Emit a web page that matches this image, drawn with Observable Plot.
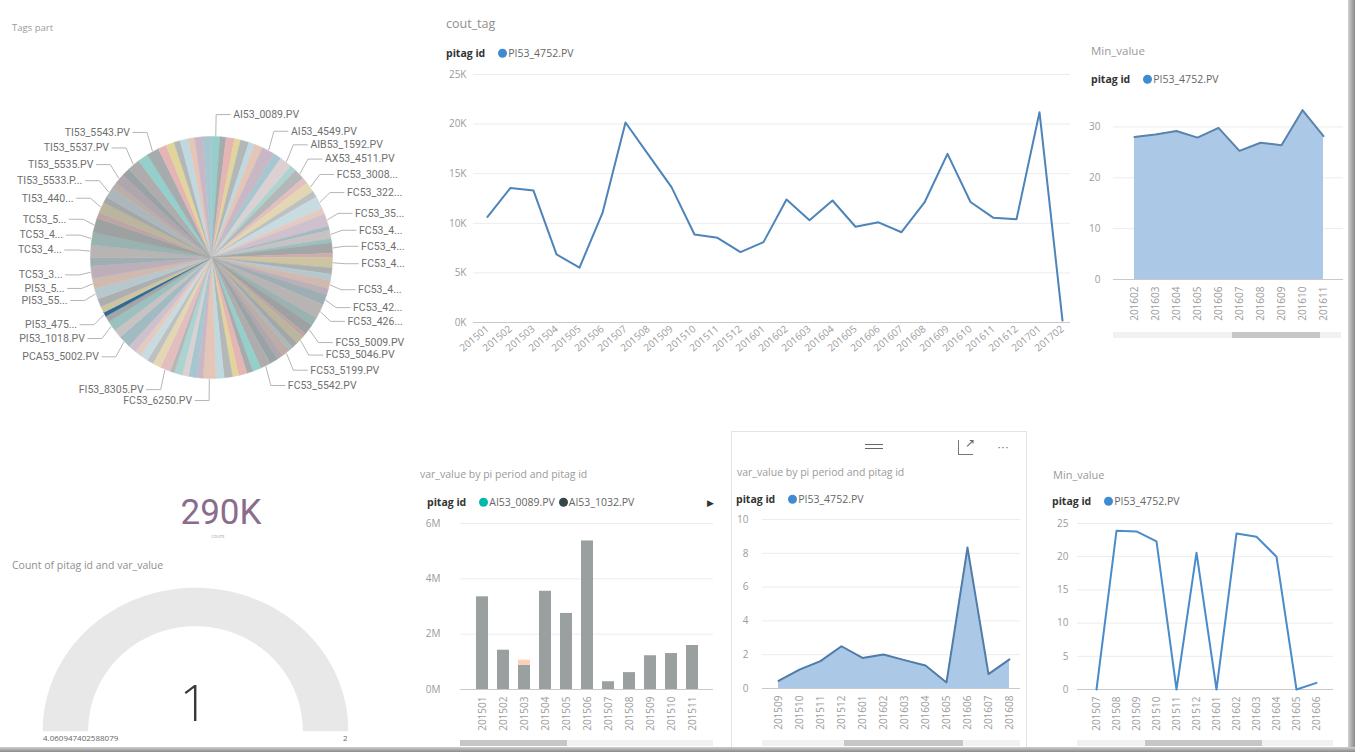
<!DOCTYPE html>
<html><head><meta charset="utf-8">
<script src="https://cdn.jsdelivr.net/npm/d3@7"></script>
<script src="https://cdn.jsdelivr.net/npm/@observablehq/plot@0.6"></script>
<style>
html,body{margin:0;padding:0;background:#fff;}
body{width:1355px;height:752px;overflow:hidden;position:relative;font-family:"Open Sans","Noto Sans",sans-serif;}
svg{overflow:visible;}
</style></head><body>
<script>
// ---------------- DATA ----------------
const pieTags = [
"AI53_0089.PV","AI53_1032.PV","AI53_2215.PV","AI53_3120.PV","AI53_4018.PV","AI53_4410.PV","AI53_4521.PV","AI53_4549.PV",
"AI53_5010.PV","AIB53_1592.PV","AIC53_1601.PV","AX53_4511.PV","AX53_4512.PV","FC53_3008.PV","FC53_3011.PV","FC53_3225.PV",
"FC53_3301.PV","FC53_3512.PV","FC53_3710.PV","FC53_4001.PV","FC53_4020.PV","FC53_4046.PV","FC53_4062.PV","FC53_4105.PV",
"FC53_4130.PV","FC53_4152.PV","FC53_4188.PV","FC53_4201.PV","FC53_4215.PV","FC53_4260.PV","FC53_4301.PV","FC53_5009.PV",
"FC53_5021.PV","FC53_5046.PV","FC53_5101.PV","FC53_5150.PV","FC53_5199.PV","FC53_5301.PV","FC53_5410.PV","FC53_5542.PV",
"FC53_5601.PV","FC53_5702.PV","FC53_5810.PV","FC53_5903.PV","FC53_6011.PV","FC53_6120.PV","FC53_6250.PV","FC53_6301.PV",
"FC53_6402.PV","FI53_8101.PV","FI53_8210.PV","FI53_8250.PV","FI53_8305.PV","FI53_8401.PV","FI53_8502.PV","FI53_8603.PV",
"LI53_2001.PV","LI53_2102.PV","PCA53_5002.PV","PCA53_5010.PV","PI53_1018.PV","PI53_2030.PV","PI53_4752.PV","PI53_4801.PV",
"PI53_5010.PV","PI53_5520.PV","PI53_5601.PV","TC53_3010.PV","TC53_3120.PV","TC53_4010.PV","TC53_4120.PV","TC53_5010.PV",
"TC53_5120.PV","TI53_4401.PV","TI53_4520.PV","TI53_5533.PV","TI53_5534.PV","TI53_5535.PV","TI53_5536.PV","TI53_5537.PV",
"TI53_5540.PV","TI53_5543.PV","TI53_5545.PV","TI53_5550.PV","TI53_5601.PV","TT53_1001.PV","TT53_1102.PV","TT53_1203.PV","XV53_1001.PV"];
const pieCounts = [
3236,2412,3198,2437,3251,2405,3224,4839,
3217,4852,2426,4031,2398,4047,2419,4826,
2433,4861,1609,3207,1624,4015,1598,4043,
2421,2436,3229,2410,4038,5644,3215,4027,
1613,3246,2409,1617,3233,2428,3202,4036,
3241,2415,3219,2431,3208,3237,4844,2402,
3226,2418,3213,1606,4049,3231,2424,3204,
2416,3245,4833,3218,4029,2407,1621,2439,
3222,4041,4018,4857,3209,4836,4849,5631,
2427,4024,2413,4052,2432,4009,3234,4842,
4033,4827,3211,3242,2404,3228,2429,3216,3239];
const pieLabelTexts = {
"AI53_0089.PV":"AI53_0089.PV","AI53_4549.PV":"AI53_4549.PV","AIB53_1592.PV":"AIB53_1592.PV","AX53_4511.PV":"AX53_4511.PV",
"FC53_3008.PV":"FC53_3008...","FC53_3225.PV":"FC53_322...","FC53_3512.PV":"FC53_35...","FC53_4001.PV":"FC53_4...",
"FC53_4046.PV":"FC53_4...","FC53_4105.PV":"FC53_4...","FC53_4188.PV":"FC53_4...","FC53_4215.PV":"FC53_42...",
"FC53_4260.PV":"FC53_426...","FC53_5009.PV":"FC53_5009.PV","FC53_5046.PV":"FC53_5046.PV","FC53_5199.PV":"FC53_5199.PV",
"FC53_5542.PV":"FC53_5542.PV","FC53_6250.PV":"FC53_6250.PV","FI53_8305.PV":"FI53_8305.PV","PCA53_5002.PV":"PCA53_5002.PV",
"PI53_1018.PV":"PI53_1018.PV","PI53_4752.PV":"PI53_475...","PI53_5520.PV":"PI53_55...","PI53_5601.PV":"PI53_5...",
"TC53_3010.PV":"TC53_3...","TC53_4010.PV":"TC53_4...","TC53_4120.PV":"TC53_4...","TC53_5010.PV":"TC53_5...",
"TI53_4401.PV":"TI53_440...","TI53_5533.PV":"TI53_5533.P...","TI53_5535.PV":"TI53_5535.PV","TI53_5537.PV":"TI53_5537.PV",
"TI53_5543.PV":"TI53_5543.PV"};
const highlightTag = "PI53_4752.PV";

const coutPeriods = ["201501","201502","201503","201504","201505","201506","201507","201508","201509","201510","201511","201512",
"201601","201602","201603","201604","201605","201606","201607","201608","201609","201610","201611","201612","201701","201702"];
const coutValues = [10650,13570,13300,6860,5530,11050,20160,16900,13650,8870,8540,7100,
8100,12400,10300,12300,9650,10100,9100,12100,17000,12150,10550,10400,21200,200];
const coutTicks = [0,5000,10000,15000,20000,25000];

const minTopPeriods = ["201602","201603","201604","201605","201606","201607","201608","201609","201610","201611"];
const minTopValues = [28.0,28.5,29.2,27.9,29.8,25.3,26.9,26.4,33.3,28.2];
const minTopTicks = [0,10,20,30];

const kpiValue = "290K";
const kpiLabel = "count";
const gaugeTitle = "Count of pitag id and var_value";
const gaugeMin = "4.060947402588079";
const gaugeMax = "2";
const gaugeValue = "1";

const barPeriods = ["201501","201502","201503","201504","201505","201506","201507","201508","201509","201510","201511"];
const barSeries = ["AI53_1032.PV","AI53_2215.PV"];
const barValuesA = [3.35,1.42,0.88,3.55,2.75,5.37,0.28,0.61,1.22,1.30,1.59]; // millions
const barValuesB = [0,0,0.18,0,0,0,0,0,0,0,0];
const barTicks = [0,2,4,6];

const areaPeriods = ["201509","201510","201511","201512","201601","201602","201603","201604","201605","201606","201607","201608"];
const areaValues = [0.45,1.12,1.62,2.5,1.81,2.01,1.68,1.36,0.36,8.34,0.85,1.72];
const areaTicks = [0,2,4,6,8,10];

const minBotPeriods = ["201507","201508","201509","201510","201511","201512","201601","201602","201603","201604","201605","201606"];
const minBotValues = [0,23.9,23.8,22.3,0,20.6,0,23.5,23.0,20.0,0,1.0];
const minBotTicks = [0,5,10,15,20,25];

// ---------------- STYLE ----------------
const FONT = '"Open Sans","Noto Sans",sans-serif';
const DIN = 'Roboto,"DejaVu Sans",sans-serif';
const PALETTE = ["#01B8AA","#374649","#FD625E","#F2C80F","#5F6B6D","#8AD4EB","#FE9666","#A66999","#3599B8","#DFBFBF",
"#4AC5BB","#5F6B6D","#FB8281","#F4D25A","#7F898A","#A4DDEE","#FDAB89","#B687AC","#28738A","#A78F8F",
"#168980","#293537","#BB4A4A","#B59525","#475052","#6A9FB0","#BD7150","#7B4F71","#1B4D5C","#706060",
"#0F5C55","#1C2325","#7D3231","#796419","#303637","#476A75","#7E4B36","#52354C","#0D262E","#544848"];

function addText(s, x, y, o = {}) {
  const d = document.createElement("div");
  d.textContent = s;
  const a = o.anchor === "middle" ? "-50%" : o.anchor === "end" ? "-100%" : "0";
  Object.assign(d.style, {position:"absolute", left:x+"px", top:y+"px", fontSize:(o.size||11)+"px",
    color:o.color||"#999", fontWeight:o.weight||400, fontFamily:o.family||FONT, lineHeight:"1",
    whiteSpace:"nowrap", transform:`translate(${a},-50%)`});
  document.body.appendChild(d);
  return d;
}
function addBox(x, y, w, h, style) {
  const d = document.createElement("div");
  Object.assign(d.style, {position:"absolute", left:x+"px", top:y+"px", width:w+"px", height:h+"px"}, style);
  document.body.appendChild(d);
  return d;
}
function legend(x, y, items) {
  const d = document.createElement("div");
  Object.assign(d.style, {position:"absolute", left:x+"px", top:y+"px", transform:"translateY(-50%)",
    display:"flex", alignItems:"center", fontFamily:FONT, fontSize:"10.5px", lineHeight:"1", whiteSpace:"nowrap"});
  const b = document.createElement("span");
  b.textContent = "pitag id"; b.style.fontWeight = "700"; b.style.color = "#333"; b.style.marginRight = "13px";
  d.appendChild(b);
  items.forEach(([name, color]) => {
    const dot = document.createElement("span");
    Object.assign(dot.style, {display:"inline-block", width:"9px", height:"9px", borderRadius:"50%", background:color, marginRight:"1px"});
    const t = document.createElement("span");
    t.textContent = name; t.style.color = "#666"; t.style.marginRight = "4px";
    d.appendChild(dot); d.appendChild(t);
  });
  document.body.appendChild(d);
  return d;
}
function place(svg, left, top) {
  svg.style.position = "absolute"; svg.style.left = left + "px"; svg.style.top = top + "px";
  document.body.appendChild(svg);
}
function scrollbar(x0, x1, t0, t1, y) {
  addBox(x0, y, x1 - x0, 6, {background:"#f1f1f1"});
  addBox(t0, y, t1 - t0, 6, {background:"#c6c6c6"});
}

// ---------------- PIE ----------------
addText("Tags part", 12, 28, {size:9.5, color:"#9a9a9a"});
{
  const CX = 211, CY = 257, R = 121;
  const total = d3.sum(pieCounts);
  let cum = 0;
  const slices = pieTags.map((tag, i) => {
    const a0 = cum / total * 2 * Math.PI; cum += pieCounts[i];
    const a1 = cum / total * 2 * Math.PI;
    const base = PALETTE[i % PALETTE.length];
    const faded = d3.interpolateRgb(d3.interpolateRgb("#ffffff", base)(0.48), "#b4b6b7")(0.35);
    const color = tag === highlightTag ? "#2f6a95" : faded;
    return {tag, i, a0, a1, mid:(a0 + a1) / 2, color};
  });
  const pts = [];
  slices.forEach(s => {
    const n = Math.max(2, Math.ceil((s.a1 - s.a0) / (Math.PI / 180)));
    pts.push({k:s.i, x:CX, y:CY, c:s.color});
    for (let j = 0; j <= n; j++) {
      const a = s.a0 + (s.a1 - s.a0) * j / n;
      pts.push({k:s.i, x:CX + R * Math.sin(a), y:CY - R * Math.cos(a), c:s.color});
    }
  });
  const leaders = [], labelsR = [], labelsL = [];
  slices.forEach(s => {
    const t = pieLabelTexts[s.tag]; if (!t) return;
    const sn = Math.sin(s.mid), cs = Math.cos(s.mid);
    const side = sn >= 0 ? 1 : -1;
    const ly = CY - (R + 22) * cs;
    const ex = CX + (R + 1) * sn, ey = CY - (R + 1) * cs;
    const mx = CX + (R + 12) * sn;
    const tx = mx + 14 * side;
    leaders.push({k:s.i, x:ex, y:ey}, {k:s.i, x:mx, y:ly}, {k:s.i, x:tx, y:ly});
    (side > 0 ? labelsR : labelsL).push({x:tx + 3 * side, y:ly, text:t});
  });
  const svg = Plot.plot({
    width:420, height:320, margin:0,
    x:{domain:[0,420], range:[0,420], axis:null},
    y:{domain:[100,420], range:[0,320], axis:null},
    color:{type:"identity"},
    style:{background:"none", overflow:"visible"},
    marks:[
      Plot.line(pts, {x:"x", y:"y", z:"k", fill:"c", stroke:"c", strokeWidth:0.5, curve:"linear-closed"}),
      Plot.line(leaders, {x:"x", y:"y", z:"k", stroke:"#b5b5b5", strokeWidth:1}),
      Plot.text(labelsR, {x:"x", y:"y", text:"text", textAnchor:"start", fill:"#6f6f6f", fontSize:10.5, fontFamily:DIN}),
      Plot.text(labelsL, {x:"x", y:"y", text:"text", textAnchor:"end", fill:"#6f6f6f", fontSize:10.5, fontFamily:DIN})
    ]
  });
  place(svg, 0, 100);
}

// ---------------- generic cartesian panel ----------------
function panel(o) {
  const marks = [
    Plot.ruleY(o.ticks.filter(t => t > 0), {stroke:"#ececec", insetLeft:o.gridL, insetRight:o.gridR}),
    Plot.ruleY([0], {stroke:"#c9c9c9", insetLeft:o.gridL, insetRight:o.gridR}),
    ...o.marks
  ];
  const svg = Plot.plot({
    width:o.width, height:o.height,
    marginLeft:o.mL, marginRight:o.mR, marginTop:o.mT, marginBottom:o.mB,
    style:{fontFamily:FONT, fontSize:"10px", color:"#9b9b9b", background:"none", overflow:"visible"},
    x:o.x,
    y:{domain:o.yDomain, ticks:o.ticks, tickFormat:o.fmt, tickSize:0, tickPadding:o.tickPad, label:null},
    color:{type:"identity"},
    marks
  });
  place(svg, o.left, o.top);
}

// ---------------- cout_tag ----------------
addText("cout_tag", 446, 24, {size:12.5, color:"#8f8f8f"});
legend(446, 53, [["PI53_4752.PV", "#3f8bd0"]]);
panel({
  left:420, top:60, width:660, height:300, mL:65, mR:17, mT:14, mB:38,
  x:{type:"point", domain:coutPeriods, padding:0, tickRotate:-40, tickSize:0, tickPadding:5, label:null},
  yDomain:[0,25000], ticks:coutTicks, fmt:d => d / 1000 + "K", tickPad:19, gridL:-12, gridR:-7,
  marks:[Plot.line(coutPeriods.map((p, i) => ({p, v:coutValues[i]})), {x:"p", y:"v", stroke:"#4d84b9", strokeWidth:2})]
});

// ---------------- Min_value (top right) ----------------
addText("Min_value", 1091, 51, {size:11.5, color:"#9a9a9a"});
legend(1091, 79, [["PI53_4752.PV", "#3f8bd0"]]);
panel({
  left:1085, top:95, width:260, height:240, mL:45, mR:19, mT:6, mB:56,
  x:{type:"point", domain:minTopPeriods, padding:0, tickRotate:-90, tickSize:0, tickPadding:7, label:null},
  yDomain:[0,35], ticks:minTopTicks, tickPad:30, gridL:-17, gridR:-17,
  marks:[
    Plot.areaY(minTopPeriods.map((p, i) => ({p, v:minTopValues[i]})), {x:"p", y:"v", fill:"#abc8e6"}),
    Plot.line(minTopPeriods.map((p, i) => ({p, v:minTopValues[i]})), {x:"p", y:"v", stroke:"#5a83ad", strokeWidth:2})
  ]
});
scrollbar(1113, 1341, 1232, 1320, 332);

// ---------------- KPI ----------------
addText(kpiValue, 221, 512, {size:35, color:"#8b6c8d", family:DIN, anchor:"middle"});
addText(kpiLabel, 218, 536, {size:5, color:"#aaa", anchor:"middle"});

// ---------------- Gauge ----------------
addText(gaugeTitle, 12, 565, {size:10.5, color:"#8f8f8f"});
{
  const cx = 195, cy = 730;
  const ring = [];
  const steps = d3.range(0, 181, 2);
  steps.forEach(t => { const a = Math.PI - t * Math.PI / 180; ring.push({x:cx + 152 * Math.cos(a), y:cy - 142 * Math.sin(a)}); });
  steps.slice().reverse().forEach(t => { const a = Math.PI - t * Math.PI / 180; ring.push({x:cx + 108 * Math.cos(a), y:cy - 105 * Math.sin(a)}); });
  const svg = Plot.plot({
    width:400, height:170, margin:0,
    x:{domain:[0,400], range:[0,400], axis:null},
    y:{domain:[570,740], range:[0,170], axis:null},
    style:{background:"none", overflow:"visible"},
    marks:[Plot.line(ring, {x:"x", y:"y", fill:"#e8e8e8", stroke:"#e8e8e8", curve:"linear-closed"})]
  });
  place(svg, 0, 570);
}
addText(gaugeValue, 194, 702, {size:50, color:"#3a3a3a", weight:300, anchor:"middle"});
addText(gaugeMin, 43, 738, {size:8, color:"#666"});
addText(gaugeMax, 343, 738, {size:8, color:"#666"});

// ---------------- Bar chart ----------------
addText("var_value by pi period and pitag id", 420, 474, {size:10.5, color:"#9a9a9a"});
legend(427, 502, [["AI53_0089.PV", "#01B8AA"], ["AI53_1032.PV", "#374649"]]);
addText("▶", 707, 502, {size:9, color:"#333"});
{
  const data = [];
  barPeriods.forEach((p, i) => data.push({p, v:barValuesA[i], s:barSeries[0], c:"#9a9fa0"}));
  barPeriods.forEach((p, i) => data.push({p, v:barValuesB[i], s:barSeries[1], c:"#fcd0b4"}));
  panel({
    left:410, top:515, width:320, height:228, mL:53, mR:18, mT:8, mB:54,
    x:{type:"band", domain:barPeriods, padding:0.42, tickRotate:-90, tickSize:0, tickPadding:7, label:null},
    yDomain:[0,6], ticks:barTicks, fmt:d => d + "M", tickPad:23, gridL:-3, gridR:-1,
    marks:[Plot.barY(data, {x:"p", y:"v", z:"s", fill:"c"})]
  });
}
scrollbar(460, 713, 460, 567, 740);

// ---------------- Area chart (focused panel) ----------------
addBox(731, 431, 296, 330, {border:"1px solid #e3e3e3", boxSizing:"border-box"});
addBox(865, 444, 18, 1, {background:"#666"});
addBox(865, 448, 18, 1, {background:"#666"});
addBox(958, 440, 15, 15, {border:"1px solid #777", boxSizing:"border-box", borderTop:"none", borderRight:"none"});
addText("↗", 970, 443, {size:12, color:"#666", anchor:"middle"});
addText("• • •", 1003, 448, {size:6, color:"#666", anchor:"middle"});
addText("var_value by pi period and pitag id", 737, 472, {size:10.5, color:"#9a9a9a"});
legend(736, 499, [["PI53_4752.PV", "#3f8bd0"]]);
panel({
  left:735, top:510, width:300, height:235, mL:42, mR:25, mT:9, mB:57,
  x:{type:"point", domain:areaPeriods, padding:0, tickRotate:-90, tickSize:0, tickPadding:7, label:null},
  yDomain:[0,10], ticks:areaTicks, tickPad:29, gridL:-15, gridR:-10,
  marks:[
    Plot.areaY(areaPeriods.map((p, i) => ({p, v:areaValues[i]})), {x:"p", y:"v", fill:"#abc8e6"}),
    Plot.line(areaPeriods.map((p, i) => ({p, v:areaValues[i]})), {x:"p", y:"v", stroke:"#4f7ca8", strokeWidth:2})
  ]
});
scrollbar(762, 1020, 844, 963, 740);

// ---------------- Min_value (bottom right) ----------------
addText("Min_value", 1053, 474, {size:11, color:"#9a9a9a"});
legend(1052, 501, [["PI53_4752.PV", "#3f8bd0"]]);
panel({
  left:1045, top:515, width:300, height:230, mL:48, mR:27, mT:8, mB:56,
  x:{type:"point", domain:minBotPeriods, padding:0, tickRotate:-90, tickSize:0, tickPadding:7, label:null},
  yDomain:[0,25], ticks:minBotTicks, tickPad:25, gridL:-16, gridR:-15,
  marks:[Plot.line(minBotPeriods.map((p, i) => ({p, v:minBotValues[i]})), {x:"p", y:"v", stroke:"#4a8cca", strokeWidth:2})]
});
scrollbar(1077, 1333, 1145, 1262, 740);

// ---------------- canvas shadow ----------------
addBox(1348, 0, 7, 752, {background:"linear-gradient(to right,#d0d0d0,#8a8a8a)"});
addBox(0, 747, 1355, 5, {background:"linear-gradient(to bottom,#d0d0d0,#8a8a8a)"});
</script>
</body></html>
